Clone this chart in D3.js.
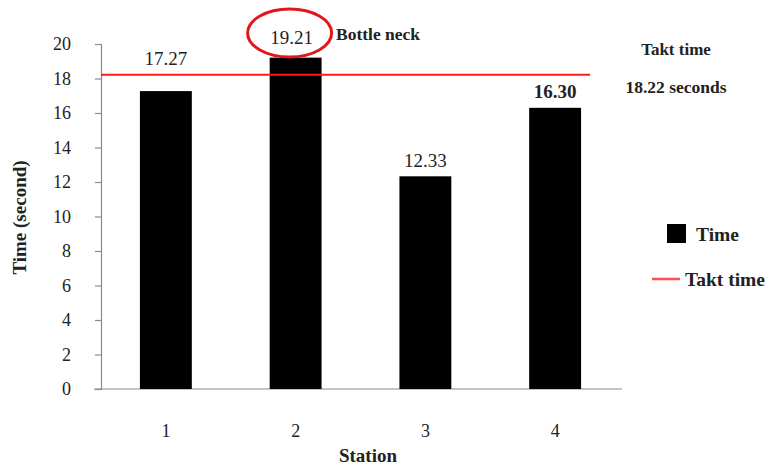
<!DOCTYPE html>
<html>
<head>
<meta charset="utf-8">
<script src="https://cdn.jsdelivr.net/npm/d3@7"></script>
<style>
  html, body { margin: 0; padding: 0; background: #fff; }
  svg { display: block; }
</style>
</head>
<body>
<svg id="chart" width="771" height="470"></svg>
<script>
// Station cycle times (seconds)
const stations = ["1", "2", "3", "4"];
const times = [17.27, 19.21, 12.33, 16.30];
const timeLabels = ["17.27", "19.21", "12.33", "16.30"];
const taktTime = 18.22;
const yTicks = [0, 2, 4, 6, 8, 10, 12, 14, 16, 18, 20];

const FONT = "'Liberation Serif', Tinos, 'Times New Roman', serif";
const W = 771, H = 470;
const margin = { left: 101, right: 151, top: 44, bottom: 81 };

const svg = d3.select("#chart");

const x = d3.scaleBand()
  .domain(stations)
  .range([margin.left, W - margin.right])
  .paddingInner(0.6)
  .paddingOuter(0.3);

const y = d3.scaleLinear()
  .domain([0, 20])
  .range([H - margin.bottom, margin.top]);

const axisColor = "#8a8a8a";
const ink = "#222";

function styleText(sel, size, weight) {
  return sel.style("font-family", FONT)
    .style("font-size", size + "px")
    .style("font-weight", weight || "normal")
    .style("fill", ink);
}

// Y axis
const yAxis = svg.append("g")
  .attr("transform", `translate(${margin.left},0)`)
  .call(d3.axisLeft(y).tickValues(yTicks).tickSize(6).tickPadding(24));
yAxis.select(".domain").attr("stroke", axisColor).attr("stroke-width", 1.2);
yAxis.selectAll(".tick line").attr("stroke", axisColor).attr("stroke-width", 1.2);
styleText(yAxis.selectAll(".tick text"), 18);

// X axis
const xAxis = svg.append("g")
  .attr("transform", `translate(0,${y(0)})`)
  .call(d3.axisBottom(x).tickSize(0).tickPadding(35));
xAxis.select(".domain").attr("stroke", axisColor).attr("stroke-width", 1.2)
  .attr("d", `M${margin.left - 7},0H${W - margin.right + 2}`);
styleText(xAxis.selectAll(".tick text"), 18);

// Bars
svg.append("g").selectAll("rect")
  .data(times)
  .join("rect")
  .attr("x", (d, i) => x(stations[i]))
  .attr("y", d => y(d))
  .attr("width", x.bandwidth())
  .attr("height", d => y(0) - y(d))
  .attr("fill", "#000");

// The tallest bar is the bottleneck
const bottleneck = d3.maxIndex(times);

// Value labels: lifted above the takt line when the bar top sits just under it
function labelY(d, i) {
  if (i === bottleneck) return y(d) - 13.5;
  let ly = y(d) - 9.5;
  if (d < taktTime && y(d) - y(taktTime) < 25) ly = Math.min(ly, y(taktTime) - 10);
  return ly;
}
styleText(
  svg.append("g").selectAll("text")
    .data(times)
    .join("text")
    .attr("x", (d, i) => x(stations[i]) + x.bandwidth() / 2 + (i === bottleneck ? -4 : 0))
    .attr("y", labelY)
    .attr("text-anchor", "middle")
    .text((d, i) => timeLabels[i]),
  19)
  .style("font-weight", (d, i) => i === times.length - 1 ? "bold" : "normal");

// Takt time line
svg.append("line")
  .attr("x1", margin.left)
  .attr("x2", 590)
  .attr("y1", y(taktTime))
  .attr("y2", y(taktTime))
  .attr("stroke", "#ff1a1a")
  .attr("stroke-width", 2);

// Bottleneck highlight
const bnX = x(stations[bottleneck]) + x.bandwidth() / 2 - 6;
svg.append("ellipse")
  .attr("cx", bnX)
  .attr("cy", 33)
  .attr("rx", 42)
  .attr("ry", 24)
  .attr("fill", "none")
  .attr("stroke", "#e3171b")
  .attr("stroke-width", 3);
styleText(svg.append("text").attr("x", 336).attr("y", 40).text("Bottle neck"), 17.5, "bold");

// Takt time note
styleText(svg.append("text")
  .attr("x", 676).attr("y", 55)
  .attr("text-anchor", "middle")
  .text("Takt time"), 17, "bold");
styleText(svg.append("text")
  .attr("x", 676).attr("y", 92.5)
  .attr("text-anchor", "middle")
  .text(`${taktTime.toFixed(2)} seconds`), 17.5, "bold");

// Axis titles
styleText(svg.append("text")
  .attr("transform", `translate(26,${(y(0) + y(20)) / 2 + 1}) rotate(-90)`)
  .attr("text-anchor", "middle")
  .text("Time (second)"), 19, "bold");
styleText(svg.append("text")
  .attr("x", 368)
  .attr("y", 462)
  .attr("text-anchor", "middle")
  .text("Station"), 19, "bold");

// Legend
const legend = svg.append("g");
legend.append("rect")
  .attr("x", 667).attr("y", 224).attr("width", 19).attr("height", 19)
  .attr("fill", "#000");
styleText(legend.append("text").attr("x", 696).attr("y", 240.5).text("Time"), 19.5, "bold");
legend.append("line")
  .attr("x1", 652).attr("x2", 680).attr("y1", 279).attr("y2", 279)
  .attr("stroke", "#ff4d4d").attr("stroke-width", 2.5);
styleText(legend.append("text").attr("x", 685).attr("y", 286).text("Takt time"), 19.5, "bold");
</script>
</body>
</html>
